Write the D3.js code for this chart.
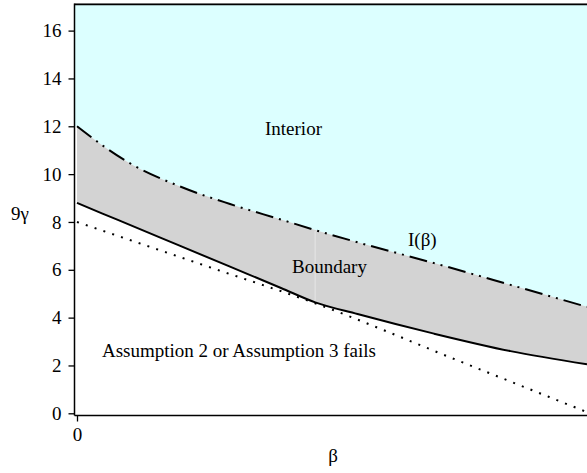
<!DOCTYPE html>
<html>
<head>
<meta charset="utf-8">
<script src="https://cdn.jsdelivr.net/npm/d3@7"></script>
<style>
  body { margin: 0; background: #fff; }
  svg { display: block; }
</style>
</head>
<body>
<svg id="chart" width="587" height="473"></svg>
<script>
// values
var betaGrid = [0, 0.05, 0.1, 0.2, 0.3, 0.4, 0.467, 0.55, 0.7, 0.85, 1.0]
var iCurve   = [12, 11.2, 10.5, 9.5, 8.75, 8.1, 7.66, 7.15, 6.28, 5.37, 4.45]
var boundary = [8.8, 8.35, 7.91, 7.02, 6.13, 5.24, 4.64, 4.15, 3.33, 2.6, 2.05]
var dotBeta  = [0, 0.25, 0.467, 0.75, 1.0]
var dotted   = [8, 6.18, 4.6, 2.18, 0.05]
var yTicks   = [0, 2, 4, 6, 8, 10, 12, 14, 16]
var xTicks   = [0]
var kinkBeta = 0.467

var serif = "'Liberation Serif'"

var svg = d3.select("#chart")

var axisX = 74.5, axisY = 415.5, topY = 4.5, rightX = 587

var x = d3.scaleLinear().domain([0, 1]).range([77, 587])
var y = d3.scaleLinear().domain([0, 17.1]).range([413.3, 4.3])

var rows = betaGrid.map(function(b, i) {
    return { b: b, top: iCurve[i], low: boundary[i] }
})
var dotRows = dotBeta.map(function(b, i) { return { b: b, v: dotted[i] } })

var curve = d3.curveMonotoneX

//interior (cyan) region
svg.append("rect")
    .attr("x", axisX)
    .attr("y", topY)
    .attr("width", x(0) - axisX)
    .attr("height", y(iCurve[0]) - topY)
    .attr("fill", "#dcffff")

svg.append("path")
    .datum(rows)
    .attr("fill", "#dcffff")
    .attr("d", d3.area().curve(curve)
        .x(d => x(d.b))
        .y0(topY)
        .y1(d => y(d.top)))

//boundary (grey) band
svg.append("path")
    .datum(rows)
    .attr("fill", "#d3d3d3")
    .attr("d", d3.area().curve(curve)
        .x(d => x(d.b))
        .y0(d => y(d.top))
        .y1(d => y(d.low)))

// faint seam in the grey band
var ki = betaGrid.indexOf(kinkBeta)
svg.append("line")
    .attr("x1", x(kinkBeta)).attr("x2", x(kinkBeta))
    .attr("y1", y(iCurve[ki]) + 1).attr("y2", y(boundary[ki]) - 1)
    .attr("stroke", "#e6e6e6")
    .attr("stroke-width", 1)

//curves
svg.append("path")
    .datum(dotRows)
    .attr("fill", "none")
    .attr("stroke", "#000")
    .attr("stroke-width", 2)
    .attr("stroke-dasharray", "2,7.3")
    .attr("d", d3.line().curve(curve).x(d => x(d.b)).y(d => y(d.v)))

svg.append("path")
    .datum(rows)
    .attr("fill", "none")
    .attr("stroke", "#000")
    .attr("stroke-width", 2)
    .attr("d", d3.line().curve(curve).x(d => x(d.b)).y(d => y(d.low)))

svg.append("path")
    .datum(rows)
    .attr("fill", "none")
    .attr("stroke", "#000")
    .attr("stroke-width", 2)
    .attr("stroke-dasharray", "18,6,2,6,2,6")
    .attr("d", d3.line().curve(curve).x(d => x(d.b)).y(d => y(d.top)))

//frame
svg.append("line")
    .attr("x1", axisX).attr("x2", rightX).attr("y1", topY - 1).attr("y2", topY - 1)
    .attr("stroke", "#999").attr("stroke-width", 1)
svg.append("line")
    .attr("x1", axisX).attr("x2", rightX).attr("y1", topY).attr("y2", topY)
    .attr("stroke", "#000").attr("stroke-width", 1.3)
svg.append("line")
    .attr("x1", axisX).attr("x2", axisX).attr("y1", topY - 1).attr("y2", axisY)
    .attr("stroke", "#000").attr("stroke-width", 1.5)
svg.append("line")
    .attr("x1", axisX).attr("x2", rightX).attr("y1", axisY).attr("y2", axisY)
    .attr("stroke", "#000").attr("stroke-width", 1.5)

//axes
var yAxis = svg.append("g")
    .attr("transform", "translate(" + axisX + ",0)")
    .call(d3.axisLeft(y).tickValues(yTicks).tickSize(6).tickSizeOuter(0).tickPadding(7))
yAxis.select(".domain").remove()
yAxis.selectAll(".tick line").attr("stroke", "#000").attr("stroke-width", 1.3)
yAxis.selectAll(".tick text")
    .style("font-family", serif)
    .style("font-size", "19px")
    .attr("fill", "#000")

var xAxis = svg.append("g")
    .attr("transform", "translate(0," + axisY + ")")
    .call(d3.axisBottom(x).tickValues(xTicks).tickFormat(d3.format("d"))
        .tickSize(6).tickSizeOuter(0).tickPadding(6))
xAxis.select(".domain").remove()
xAxis.selectAll(".tick line").attr("stroke", "#000").attr("stroke-width", 1.3)
xAxis.selectAll(".tick text")
    .style("font-family", serif)
    .style("font-size", "19px")
    .attr("fill", "#000")

//labels
function label(txt, cx, by, anchor) {
    svg.append("text")
        .attr("x", cx)
        .attr("y", by)
        .attr("text-anchor", anchor || "start")
        .attr("fill", "#000")
        .style("font-family", serif)
        .style("font-size", "19px")
        .text(txt)
}

label("Interior", 265, 135)
label("I(\u03b2)", 408, 246)
label("Boundary", 292, 273)
label("Assumption 2 or Assumption 3 fails", 102, 357)
label("9\u03b3", 20, 220, "middle")
label("\u03b2", 333, 462, "middle")
</script>
</body>
</html>
